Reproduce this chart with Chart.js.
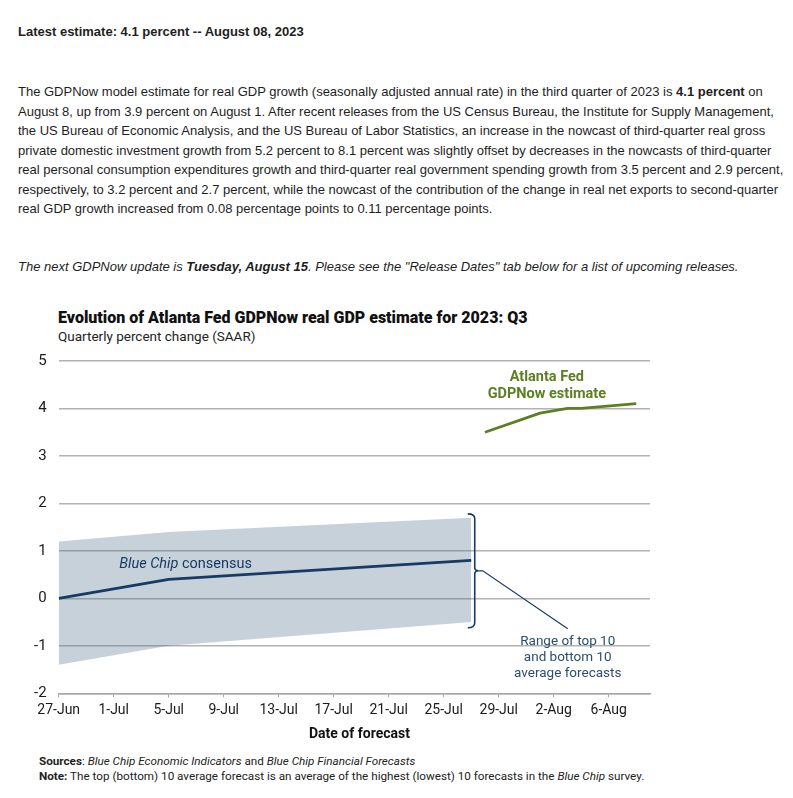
<!DOCTYPE html>
<html>
<head>
<meta charset="utf-8">
<script src="https://cdn.jsdelivr.net/npm/chart.js@4.4.0/dist/chart.umd.min.js"></script>
<style>
  body { margin: 0; background: #fff; width: 793px; height: 798px; position: relative; overflow: hidden; }
  .t { position: absolute; left: 18px; font-family: "Liberation Sans", Arial, sans-serif; font-size: 13px; line-height: 19.5px; color: #1e1e1e; white-space: nowrap; }
  .c { position: absolute; font-family: Roboto, "Open Sans", sans-serif; color: #111; white-space: nowrap; }
  #wrap { position: absolute; left: 0; top: 340px; width: 793px; height: 390px; }
</style>
</head>
<body>
<div class="t" style="top:22px;font-weight:bold">Latest estimate: 4.1 percent -- August 08, 2023</div>
<div class="t" style="top:82px">
The GDPNow model estimate for real GDP growth (seasonally adjusted annual rate) in the third quarter of 2023 is <b>4.1 percent</b> on<br>
August 8, up from 3.9 percent on August 1. After recent releases from the US Census Bureau, the Institute for Supply Management,<br>
the US Bureau of Economic Analysis, and the US Bureau of Labor Statistics, an increase in the nowcast of third-quarter real gross<br>
private domestic investment growth from 5.2 percent to 8.1 percent was slightly offset by decreases in the nowcasts of third-quarter<br>
real personal consumption expenditures growth and third-quarter real government spending growth from 3.5 percent and 2.9 percent,<br>
respectively, to 3.2 percent and 2.7 percent, while the nowcast of the contribution of the change in real net exports to second-quarter<br>
real GDP growth increased from 0.08 percentage points to 0.11 percentage points.
</div>
<div class="t" style="top:257px;font-style:italic">The next GDPNow update is <b>Tuesday, August 15</b>. Please see the "Release Dates" tab below for a list of upcoming releases.</div>

<div class="c" style="left:58px;top:308px;font-size:16px;line-height:20px;font-weight:900">Evolution of Atlanta Fed GDPNow real GDP estimate for 2023: Q3</div>
<div class="c" style="left:58px;top:327px;font-size:13.5px;line-height:19px;color:#222">Quarterly percent change (SAAR)</div>

<div id="wrap"><canvas id="Chart"></canvas></div>

<div class="c" style="left:309px;top:724px;font-size:14px;line-height:18px;font-weight:bold">Date of forecast</div>
<div class="c" style="left:39px;top:754px;font-size:11.7px;line-height:15px;color:#222"><b>Sources</b>: <i>Blue Chip Economic Indicators</i> and <i>Blue Chip Financial Forecasts</i><br><b>Note:</b> The top (bottom) 10 average forecast is an average of the highest (lowest) 10 forecasts in the <i>Blue Chip</i> survey.</div>

<script>
// tick labels on the date axis
const tickDates = ['2023-06-27', '2023-07-01', '2023-07-05', '2023-07-09', '2023-07-13', '2023-07-17', '2023-07-21', '2023-07-25', '2023-07-29', '2023-08-02', '2023-08-06']
const tickLabels = ['27-Jun', '1-Jul', '5-Jul', '9-Jul', '13-Jul', '17-Jul', '21-Jul', '25-Jul', '29-Jul', '2-Aug', '6-Aug']

// Blue Chip consensus and range of top/bottom 10 average
const blueChipDates = ['2023-06-27', '2023-07-05', '2023-07-27']
const blueChipConsensus = [0.0, 0.4, 0.8]
const blueChipTop10 = [1.2, 1.4, 1.7]
const blueChipBottom10 = [-1.4, -1.0, -0.5]

// Atlanta Fed GDPNow estimate
const gdpNowDates = ['2023-07-28', '2023-08-01', '2023-08-03', '2023-08-04', '2023-08-08']
const gdpNowValues = [3.5, 3.9, 4.0, 4.0, 4.1]

const startDay = Date.UTC(2023, 5, 27)
function dayNo(s) {
    let p = s.split('-')
    return (Date.UTC(+p[0], +p[1] - 1, +p[2]) - startDay) / 86400000
}
function pts(dates, vals) {
    return dates.map((d, i) => ({ x: dayNo(d), y: vals[i] }))
}
const tickDays = tickDates.map(dayNo)
const lastDay = dayNo('2023-08-09')

const navy = '#173a66'
const green = '#5b7f22'
const chartFont = 'Roboto, "Open Sans", sans-serif'

const notes = {
    id: 'notes',
    afterDatasetsDraw(chart) {
        const c = chart.ctx, x = chart.scales.x, y = chart.scales.y
        c.save()
        // bracket at the end of the range
        const bx = x.getPixelForValue(dayNo(blueChipDates[2])) + 3.5
        const by1 = y.getPixelForValue(1.78), by2 = y.getPixelForValue(-0.62)
        const bm = (by1 + by2) / 2
        c.strokeStyle = navy
        c.lineWidth = 1.6
        c.beginPath()
        c.moveTo(bx - 7, by1); c.quadraticCurveTo(bx, by1, bx, by1 + 5)
        c.lineTo(bx, bm - 3); c.quadraticCurveTo(bx, bm, bx + 4, bm)
        c.quadraticCurveTo(bx, bm, bx, bm + 3)
        c.lineTo(bx, by2 - 5); c.quadraticCurveTo(bx, by2, bx - 7, by2)
        c.stroke()
        c.lineWidth = 1.2
        c.beginPath()
        c.moveTo(bx + 4, bm); c.lineTo(bx + 8, bm)
        c.lineTo(bx + 93, bm + 58)
        c.stroke()
        // range text
        c.fillStyle = '#2d4e70'
        c.font = '13.5px ' + chartFont
        c.textAlign = 'center'
        c.textBaseline = 'middle'
        const rx = bx + 93
        c.fillText('Range of top 10', rx, bm + 71)
        c.fillText('and bottom 10', rx, bm + 87)
        c.fillText('average forecasts', rx, bm + 103)
        // GDPNow label
        c.fillStyle = green
        c.font = 'bold 14.5px ' + chartFont
        const gx = x.getPixelForValue(35.5)
        c.fillText('Atlanta Fed', gx, y.getPixelForValue(4.65))
        c.fillText('GDPNow estimate', gx, y.getPixelForValue(4.3))
        // Blue Chip consensus label
        c.fillStyle = navy
        c.textAlign = 'left'
        c.font = 'italic 14.5px ' + chartFont
        const lx = x.getPixelForValue(4.4), ly = y.getPixelForValue(0.71)
        c.fillText('Blue Chip', lx, ly)
        const w = c.measureText('Blue Chip ').width
        c.font = '14.5px ' + chartFont
        c.fillText('consensus', lx + w, ly)
        c.restore()
    }
}

const ctx = document.getElementById('Chart').getContext('2d')
let myChart = new Chart(ctx, {
    type: 'line',
    data: {
        datasets: [{
            label: 'Blue Chip consensus',
            data: pts(blueChipDates, blueChipConsensus),
            borderColor: navy,
            borderWidth: 2.6,
            pointRadius: 0,
            fill: false,
            order: 1
        }, {
            label: 'Top 10 average',
            data: pts(blueChipDates, blueChipTop10),
            borderWidth: 0,
            borderColor: 'rgba(0,0,0,0)',
            backgroundColor: 'rgba(82, 115, 139, 0.33)',
            pointRadius: 0,
            fill: 2,
            order: 3
        }, {
            label: 'Bottom 10 average',
            data: pts(blueChipDates, blueChipBottom10),
            borderWidth: 0,
            borderColor: 'rgba(0,0,0,0)',
            pointRadius: 0,
            fill: false,
            order: 4
        }, {
            label: 'Atlanta Fed GDPNow estimate',
            data: pts(gdpNowDates, gdpNowValues),
            borderColor: green,
            borderWidth: 2.8,
            pointRadius: 0,
            fill: false,
            order: 0
        }]
    },
    options: {
        responsive: true,
        maintainAspectRatio: false,
        animation: false,
        layout: { padding: { left: 0, right: 143, top: 18, bottom: 0 } },
        plugins: { legend: { display: false }, tooltip: { enabled: false } },
        scales: {
            x: {
                type: 'linear',
                min: 0,
                max: lastDay,
                afterBuildTicks: (s) => { s.ticks = tickDays.map(v => ({ value: v })) },
                afterFit: (s) => { s.height = 36.7 },
                grid: { drawOnChartArea: false, drawTicks: true, tickLength: 4, color: '#a8a8a8', lineWidth: 1 },
                border: { display: true, color: '#a8a8a8', width: 1.5 },
                ticks: {
                    padding: 5,
                    color: '#1a1a1a',
                    font: { family: chartFont, size: 14 },
                    maxRotation: 0,
                    autoSkip: false,
                    callback: (v) => tickLabels[tickDays.indexOf(v)]
                }
            },
            y: {
                min: -2,
                max: 5,
                afterFit: (s) => { s.width = 58.7 },
                grid: { drawTicks: false, color: '#b2b2b2', lineWidth: 1.5 },
                border: { display: false },
                ticks: {
                    stepSize: 1,
                    padding: 12,
                    color: '#1a1a1a',
                    font: { family: chartFont, size: 15 }
                }
            }
        }
    },
    plugins: [notes]
});
</script>
</body>
</html>
